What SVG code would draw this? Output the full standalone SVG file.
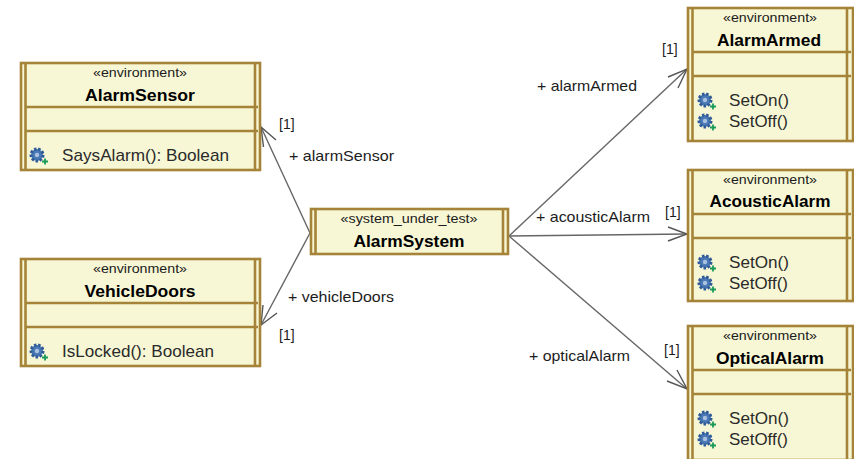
<svg xmlns="http://www.w3.org/2000/svg" xmlns:xlink="http://www.w3.org/1999/xlink" width="854" height="459" viewBox="0 0 854 459">
<style>
text{font-family:"Liberation Sans",Arial,sans-serif;fill:#1c1c1c}
.st{font-size:13px;text-anchor:middle}
.nm{font-size:17px;font-weight:bold;text-anchor:middle;fill:#000}
.op{font-size:17px;fill:#2a2a2a}
.lb{font-size:15px}
.mul{font-size:14px}
.body{fill:#f7f7d5;stroke:#a58439;stroke-width:2.600}
.bar{fill:none;stroke:#a58439;stroke-width:2.600}
.div{fill:none;stroke:#a58439;stroke-width:2.600}
.conn{fill:none;stroke:#666;stroke-width:1.400}
.tip{fill:none;stroke:#555;stroke-width:1.400}
</style>
<defs>
<g id="gear">
<circle cx="0" cy="0" r="6" fill="#4a78b4" stroke="#2f5a98" stroke-width="3" stroke-dasharray="2.400 1.700"/>
<circle cx="0" cy="0" r="2.200" fill="#a9c2e0"/>
<path d="M5 6.500h6M8 3.500v6" stroke="#1a9a5a" stroke-width="1.800" fill="none"/>
</g>
</defs>
<rect width="854" height="459" fill="#fff"/>
<g id="connectors">
<path class="conn" d="M310 233L261 127"/><path class="tip" d="M263.500 147L261 127L276 140"/>
<path class="conn" d="M310 233L261 325"/><path class="tip" d="M263 305L261 325L277 313"/>
<path class="conn" d="M509 236L687 69"/><path class="tip" d="M668 77L687 69L678 88"/>
<path class="conn" d="M509 236L687 234"/><path class="tip" d="M668 227L687 234L668 241"/>
<path class="conn" d="M509 236L687 389"/><path class="tip" d="M677 370L687 389L667 381"/>
<text class="mul" x="279" y="129">[1]</text>
<text class="lb" x="289" y="161" textLength="105" lengthAdjust="spacingAndGlyphs">+ alarmSensor</text>
<text class="mul" x="279" y="340">[1]</text>
<text class="lb" x="288" y="302" textLength="106" lengthAdjust="spacingAndGlyphs">+ vehicleDoors</text>
<text class="mul" x="662" y="54">[1]</text>
<text class="lb" x="537" y="91" textLength="100" lengthAdjust="spacingAndGlyphs">+ alarmArmed</text>
<text class="mul" x="665" y="217">[1]</text>
<text class="lb" x="536" y="222" textLength="114" lengthAdjust="spacingAndGlyphs">+ acousticAlarm</text>
<text class="mul" x="664" y="355">[1]</text>
<text class="lb" x="529" y="361" textLength="101" lengthAdjust="spacingAndGlyphs">+ opticalAlarm</text>
</g>
<g id="AlarmSensor">
<rect class="body" x="21" y="63" width="239" height="107"/>
<path class="bar" d="M25.500 63V170M255 63V170"/>
<path class="div" d="M25 107H258M25 131H258"/>
<text class="st" x="140" y="77" textLength="94" lengthAdjust="spacingAndGlyphs">«environment»</text>
<text class="nm" x="140" y="101" textLength="110" lengthAdjust="spacingAndGlyphs">AlarmSensor</text>
<use xlink:href="#gear" href="#gear" x="37" y="155"/>
<text class="op" x="62" y="161" textLength="167" lengthAdjust="spacingAndGlyphs">SaysAlarm(): Boolean</text>
</g>
<g id="VehicleDoors">
<rect class="body" x="21" y="259" width="239" height="107"/>
<path class="bar" d="M25.500 259V366M255 259V366"/>
<path class="div" d="M25 303H258M25 327H258"/>
<text class="st" x="140" y="273" textLength="94" lengthAdjust="spacingAndGlyphs">«environment»</text>
<text class="nm" x="140" y="297" textLength="111" lengthAdjust="spacingAndGlyphs">VehicleDoors</text>
<use xlink:href="#gear" href="#gear" x="37" y="351"/>
<text class="op" x="62" y="357" textLength="152" lengthAdjust="spacingAndGlyphs">IsLocked(): Boolean</text>
</g>
<g id="AlarmSystem">
<rect class="body" x="311" y="209" width="197" height="45"/>
<path class="bar" d="M315.500 209V254M503 209V254"/>
<text class="st" x="409" y="223" textLength="137" lengthAdjust="spacingAndGlyphs">«system_under_test»</text>
<text class="nm" x="409" y="247" textLength="111" lengthAdjust="spacingAndGlyphs">AlarmSystem</text>
</g>
<g id="AlarmArmed">
<rect class="body" x="688" y="8" width="165" height="133"/>
<path class="bar" d="M692.500 8V141M847 8V141"/>
<path class="div" d="M692 52H851M692 76H851"/>
<text class="st" x="770" y="22" textLength="94" lengthAdjust="spacingAndGlyphs">«environment»</text>
<text class="nm" x="769" y="46" textLength="104" lengthAdjust="spacingAndGlyphs">AlarmArmed</text>
<use xlink:href="#gear" href="#gear" x="705" y="100"/>
<text class="op" x="729" y="106" textLength="60" lengthAdjust="spacingAndGlyphs">SetOn()</text>
<use xlink:href="#gear" href="#gear" x="705" y="121"/>
<text class="op" x="729" y="127" textLength="59" lengthAdjust="spacingAndGlyphs">SetOff()</text>
</g>
<g id="AcousticAlarm">
<rect class="body" x="688" y="170" width="165" height="131"/>
<path class="bar" d="M692.500 170V301M847 170V301"/>
<path class="div" d="M692 214H851M692 238H851"/>
<text class="st" x="770" y="184" textLength="94" lengthAdjust="spacingAndGlyphs">«environment»</text>
<text class="nm" x="770" y="207" textLength="121" lengthAdjust="spacingAndGlyphs">AcousticAlarm</text>
<use xlink:href="#gear" href="#gear" x="705" y="262"/>
<text class="op" x="729" y="268" textLength="60" lengthAdjust="spacingAndGlyphs">SetOn()</text>
<use xlink:href="#gear" href="#gear" x="705" y="283"/>
<text class="op" x="729" y="289" textLength="59" lengthAdjust="spacingAndGlyphs">SetOff()</text>
</g>
<g id="OpticalAlarm">
<rect class="body" x="688" y="326" width="165" height="134"/>
<path class="bar" d="M692.500 326V460M847 326V460"/>
<path class="div" d="M692 370H851M692 394H851"/>
<text class="st" x="770" y="340" textLength="94" lengthAdjust="spacingAndGlyphs">«environment»</text>
<text class="nm" x="770" y="364" textLength="108" lengthAdjust="spacingAndGlyphs">OpticalAlarm</text>
<use xlink:href="#gear" href="#gear" x="705" y="418"/>
<text class="op" x="729" y="424" textLength="60" lengthAdjust="spacingAndGlyphs">SetOn()</text>
<use xlink:href="#gear" href="#gear" x="705" y="439"/>
<text class="op" x="729" y="445" textLength="59" lengthAdjust="spacingAndGlyphs">SetOff()</text>
</g>
</svg>
